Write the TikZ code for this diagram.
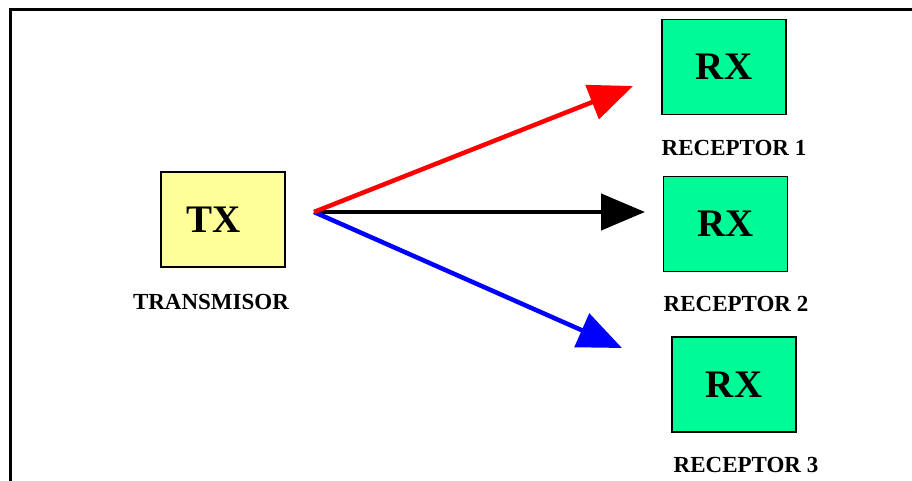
\documentclass[tikz,border=0pt]{standalone}
\usepackage{fontspec}
\setmainfont{Liberation Serif}
\usetikzlibrary{arrows.meta}
\definecolor{txfill}{RGB}{255,255,153}
\definecolor{rxfill}{RGB}{0,250,150}
\begin{document}
\begin{tikzpicture}[x=1pt,y=-1pt,
  unitfont/.style={inner sep=0pt, text depth=0pt, font=\bfseries\fontsize{39}{41}\selectfont},
  unitbox/.style={draw=black, line width=1.8pt, minimum width=124pt, minimum height=95pt, unitfont},
  caption/.style={inner sep=0pt, text depth=0pt, font=\bfseries\fontsize{23}{25}\selectfont},
  signal/.style={line width=4.5pt, -{Triangle[length=44pt,width=36pt]}}]
\useasboundingbox (0,0) rectangle (912,481);
\fill[white] (0,0) rectangle (912,481);
% frame on the top and left sides
\draw[line width=3pt] (10,481) -- (10,10) -- (912,10);

% transmitter
\node[unitbox, fill=txfill, label={[unitfont, xshift=-9pt]center:TX}] (tx) at (223,219.5) {};
\node[caption] (txlbl) at (211,302) {TRANSMISOR};

% receivers
\node[unitbox, fill=rxfill] (rx1) at (724,67) {RX};
\node[caption] (rx1lbl) at (734,147.5) {RECEPTOR 1};
\node[unitbox, fill=rxfill] (rx2) at (725.5,224) {RX};
\node[caption] (rx2lbl) at (736,304) {RECEPTOR 2};
\node[unitbox, fill=rxfill] (rx3) at (734,384.5) {RX};
\node[caption] (rx3lbl) at (746,465) {RECEPTOR 3};

% common emission point and arrow tips
\coordinate (src) at (314,212);
\coordinate (tip1) at (633,86);
\coordinate (tip2) at (645,212);
\coordinate (tip3) at (622,348);

\draw[signal, black] (src) -- (tip2);
\draw[signal, blue] (src) -- (tip3);
\draw[signal, red] (src) -- (tip1);
\end{tikzpicture}
\end{document}
